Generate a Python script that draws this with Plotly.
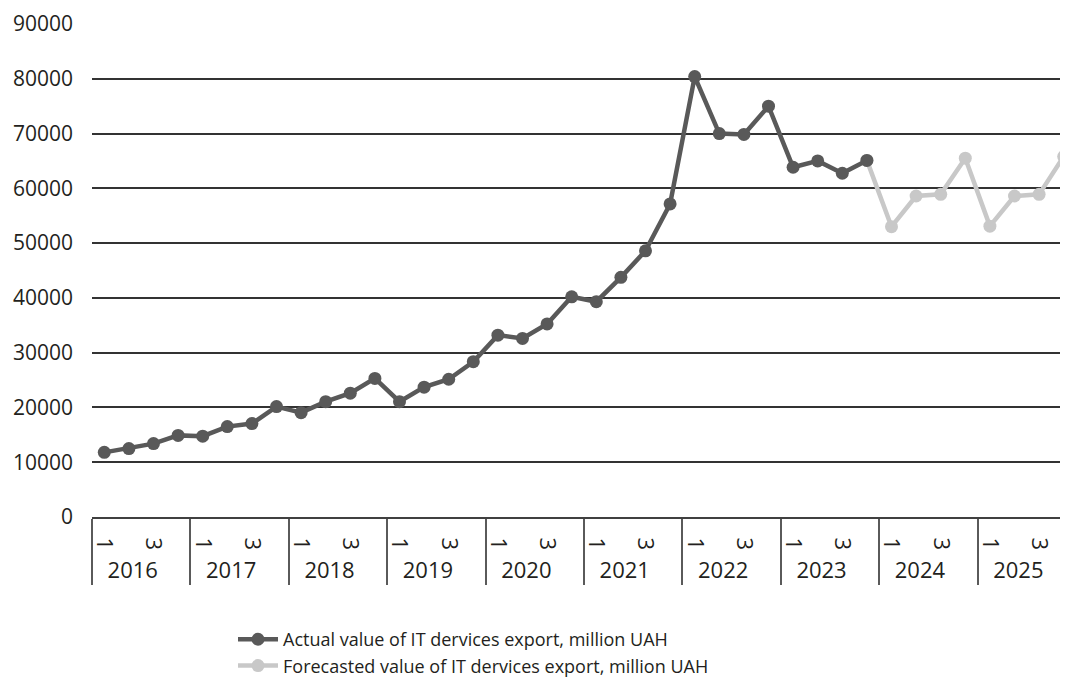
import plotly.graph_objects as go

years = ["2016", "2017", "2018", "2019", "2020", "2021", "2022", "2023", "2024", "2025"]
# quarters 2 and 4 are unlabelled in the reference (distinct blank labels)
quarters = ["1", "\u2800\u00a0", "3", "\u00a0\u2800"]

actual = [11800, 12500, 13400, 14900, 14750, 16500, 17050, 20150,
          19050, 21050, 22600, 25300, 21050, 23700, 25150, 28350,
          33200, 32600, 35250, 40200, 39300, 43750, 48600, 57150,
          80400, 70000, 69850, 75000, 63850, 65000, 62750, 65100]
forecast = [53000, 58600, 58900, 65500, 53100, 58600, 58900, 65800]

y_ticks = [0, 10000, 20000, 30000, 40000, 50000, 60000, 70000, 80000, 90000]
y_ticktext = [str(v) for v in y_ticks]

x_years = [y for y in years for _ in quarters]
x_quarters = [q for _ in years for q in quarters]

n_act = len(actual)
actual_full = actual + [None] * (len(x_years) - n_act)
forecast_full = [None] * (n_act - 1) + [actual[-1]] + forecast

dark = "#595959"
light = "#c8c8c8"
font_family = "Open Sans, Noto Sans, sans-serif"

fig = go.Figure()
fig.add_trace(go.Scatter(
    x=[x_years, x_quarters], y=forecast_full,
    mode="lines+markers",
    name="Forecasted value of IT dervices export, million UAH",
    line=dict(color=light, width=4.5),
    marker=dict(color=light, size=13),
    legendrank=2,
))
fig.add_trace(go.Scatter(
    x=[x_years, x_quarters], y=actual_full,
    mode="lines+markers",
    name="Actual value of IT dervices export, million UAH",
    line=dict(color=dark, width=4.5),
    marker=dict(color=dark, size=13),
    legendrank=1,
))

fig.update_layout(
    width=1068, height=686,
    margin=dict(l=84, r=0, t=16, b=177, autoexpand=False),
    paper_bgcolor="white", plot_bgcolor="white",
    font=dict(family=font_family, size=19, color="#231f20"),
    showlegend=True,
    legend=dict(
        x=0.1433, y=-0.211, xanchor="left", yanchor="top",
        orientation="v", bgcolor="rgba(0,0,0,0)",
        font=dict(size=18), itemwidth=40, tracegroupgap=0,
    ),
    xaxis=dict(
        type="multicategory",
        range=[-0.5, 39.5],
        showgrid=False,
        showline=True, linecolor="#404040", linewidth=2,
        tickangle=90,
        ticks="",
        ticklabelstandoff=14,
        showdividers=True, dividercolor="#5a5a5a", dividerwidth=2,
        tickfont=dict(size=22),
        automargin=False,
    ),
    yaxis=dict(
        range=[0, 90000],
        tickvals=y_ticks,
        ticktext=y_ticktext,
        showgrid=True, gridcolor="#333333", gridwidth=1.5,
        zeroline=False, showline=False,
        ticks="", ticklabelstandoff=18,
        tickfont=dict(size=21),
        automargin=False,
    ),
)

fig.write_html("out.html")
